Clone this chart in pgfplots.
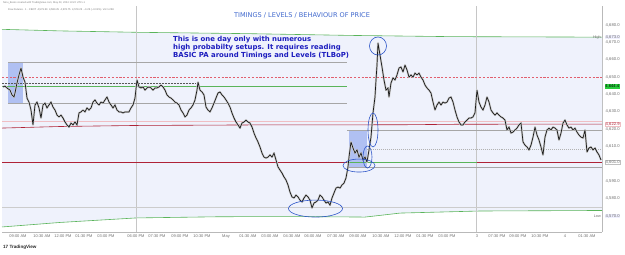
\documentclass[border=0pt]{standalone}
\usepackage{fontspec}
\setmainfont{Liberation Sans}
\newfontfamily\dejavu{DejaVu Sans}
\usepackage{pgfplots}
\pgfplotsset{compat=1.18}
\usepgfplotslibrary{fillbetween}
\definecolor{bandbg}{RGB}{239,242,252}
\definecolor{lvlgreen}{RGB}{90,180,90}
\definecolor{lvlred}{RGB}{175,35,55}
\definecolor{lvlpink}{RGB}{240,190,195}
\definecolor{dashred}{RGB}{225,95,110}
\definecolor{boxblue}{RGB}{150,172,238}
\definecolor{titleblue}{RGB}{65,105,205}
\definecolor{bodyblue}{RGB}{28,28,190}
\definecolor{ellblue}{RGB}{45,85,200}
\definecolor{lblgray}{RGB}{110,110,110}
\definecolor{candle}{RGB}{25,25,25}
\pgfplotstableread{
x p
3 4644.3
5 4644.8
7 4643.7
10 4642.5
12 4639.7
14 4638.5
15 4640.8
17 4646.6
19 4651.2
21 4655.2
23 4650.0
25 4647.1
27 4637.9
29 4635.6
31 4631.0
33 4622.4
35 4633.9
37 4635.6
39 4632.2
41 4626.4
43 4633.9
45 4635.0
47 4632.2
49 4633.9
51 4635.6
53 4632.7
55 4631.0
57 4628.1
59 4627.0
61 4628.1
63 4626.4
65 4624.1
67 4622.4
69 4621.2
71 4623.5
73 4622.4
75 4624.1
77 4622.4
79 4629.3
81 4629.9
83 4631.0
85 4629.9
87 4632.2
89 4631.0
91 4632.2
93 4635.6
95 4636.8
97 4635.0
99 4633.9
101 4635.6
103 4635.0
105 4636.8
107 4638.5
109 4635.6
111 4633.9
113 4632.2
115 4633.9
117 4631.0
119 4629.9
121 4629.9
123 4629.3
125 4629.9
127 4629.9
129 4629.9
131 4632.2
133 4633.9
135 4637.9
137 4648.3
139 4644.3
141 4643.7
143 4644.3
145 4642.5
147 4643.7
149 4644.3
151 4643.7
153 4642.5
155 4643.7
157 4643.7
159 4644.3
161 4645.4
163 4644.3
165 4642.5
167 4639.7
169 4638.5
171 4637.9
173 4636.8
175 4635.6
177 4635.0
179 4633.9
181 4631.0
183 4629.3
185 4627.0
187 4628.1
189 4631.0
191 4632.2
193 4633.9
195 4636.8
197 4642.5
198 4647.1
200 4642.5
202 4641.4
204 4639.7
206 4632.7
208 4631.0
210 4629.9
212 4632.2
214 4635.0
216 4637.9
218 4640.8
220 4641.4
222 4639.7
224 4638.5
226 4636.8
228 4635.0
230 4632.7
232 4629.3
234 4626.4
236 4624.1
238 4622.4
240 4620.6
242 4623.5
244 4624.1
246 4625.2
248 4624.1
250 4623.5
252 4621.2
254 4617.7
256 4614.9
258 4612.6
260 4609.7
262 4606.2
264 4603.9
266 4603.3
268 4603.9
270 4605.1
272 4603.9
274 4606.2
276 4602.2
278 4598.2
280 4596.4
282 4594.7
284 4592.4
286 4590.7
288 4587.8
290 4583.7
292 4580.9
294 4580.3
296 4582.0
298 4580.9
300 4579.1
302 4578.0
304 4580.3
306 4582.0
308 4580.9
310 4579.1
312 4574.5
314 4577.4
316 4578.0
318 4579.1
320 4582.0
322 4580.9
324 4579.1
326 4577.4
328 4578.0
330 4576.2
332 4580.3
334 4583.2
336 4586.0
338 4586.6
340 4586.0
342 4587.8
344 4588.9
346 4591.8
348 4598.2
349 4603.9
351 4612.6
353 4609.1
355 4606.2
357 4608.0
359 4603.9
361 4606.2
363 4602.2
365 4603.9
367 4601.0
369 4608.0
371 4615.4
373 4629.3
375 4638.5
376 4648.3
377 4656.9
378 4669.6
380 4662.7
382 4655.8
384 4648.3
386 4642.5
388 4643.7
389 4638.5
391 4646.6
393 4649.5
395 4648.3
397 4651.2
399 4655.2
401 4655.8
403 4652.9
405 4656.9
407 4654.1
409 4650.0
411 4651.2
413 4650.0
415 4652.3
417 4651.2
419 4652.3
421 4650.0
423 4648.3
425 4645.4
427 4643.7
429 4642.5
431 4640.8
433 4635.6
435 4631.0
437 4633.9
439 4635.6
441 4633.9
443 4635.6
445 4635.0
447 4635.6
449 4637.9
451 4638.5
453 4635.6
455 4631.0
457 4627.0
459 4624.1
461 4622.4
463 4622.4
465 4624.1
467 4625.2
469 4626.4
471 4626.4
473 4627.0
475 4629.3
477 4642.5
479 4635.6
481 4632.7
483 4631.0
485 4633.9
487 4638.5
489 4635.6
491 4631.0
493 4629.3
495 4628.1
497 4629.3
499 4628.1
501 4627.0
503 4626.4
505 4625.2
507 4619.5
509 4621.2
511 4617.7
513 4618.3
515 4619.5
517 4620.6
519 4622.4
521 4623.5
523 4612.6
525 4610.8
527 4609.7
529 4608.0
531 4610.8
533 4615.4
535 4621.2
537 4616.6
539 4613.7
541 4609.7
543 4605.1
545 4615.4
547 4619.5
549 4620.6
551 4619.5
553 4621.2
555 4620.6
557 4619.5
559 4613.7
561 4617.7
563 4623.5
565 4625.2
567 4622.4
569 4620.6
571 4621.2
573 4619.5
575 4620.6
577 4618.3
579 4616.6
581 4615.4
583 4614.9
585 4619.5
587 4606.8
589 4609.1
591 4609.7
593 4608.0
595 4609.1
597 4606.8
599 4605.1
601 4602.2
}\pricetable
\begin{document}
\begin{tikzpicture}
\begin{axis}[
  at={(2bp,23bp)}, anchor=south west,
  width=600bp, height=226bp, scale only axis,
  xmin=2, xmax=602, ymin=4560.7, ymax=4690.95,
  clip=false,
  axis x line*=bottom, axis y line*=right,
  axis line style={draw=gray!55, line width=0.4pt},
  major tick length=0pt,
  xtick={18,42,63,84,106,136,157,180,202,226,248,270,292,313,336,358,381,403,425,447,477,497,518,540,565,587},
  xticklabels={09:00 AM,10:30 AM,12:00 PM,01:30 PM,03:00 PM,06:00 PM,07:30 PM,09:00 PM,10:30 PM,May,01:30 AM,03:00 AM,04:30 AM,06:00 AM,07:30 AM,09:00 AM,10:30 AM,12:00 PM,01:30 PM,03:00 PM,3,07:30 PM,09:00 PM,10:30 PM,4,01:30 AM},
  xticklabel style={font=\fontsize{4}{4.5}\selectfont, text=lblgray, inner sep=0pt, yshift=-2.6bp},
  ytick={4580,4590,4610,4620,4630,4640,4650,4660,4670,4680},
  yticklabel style={font=\fontsize{4.2}{5}\selectfont, text=lblgray, inner sep=0pt, anchor=west, xshift=3.5bp},
  /pgf/number format/.cd, fixed, fixed zerofill, precision=1, 1000 sep={,}, assume math mode=true,
]
% band curves
\addplot[name path=up, lvlgreen, line width=0.6pt] coordinates {(2,4677.5)(60,4676.6)(136,4675.8)(250,4675.0)(350,4674.0)(450,4673.3)(602,4673.0)};
\addplot[name path=lo, lvlgreen, line width=0.6pt] coordinates {(2,4563.6)(60,4566.2)(136,4568.8)(220,4569.5)(300,4569.6)(365,4569.3)(385,4570.6)(400,4571.6)(480,4572.8)(602,4573.1)};
\addplot[bandbg] fill between[of=up and lo];
% session separators
\draw[gray!45, line width=0.4pt] (axis cs:136,4560.7) -- (axis cs:136,4690.95);
\draw[gray!45, line width=0.4pt] (axis cs:476,4560.7) -- (axis cs:476,4690.95);
% blue boxes
\fill[boxblue, opacity=0.7] (axis cs:8,4658.1) rectangle (axis cs:23,4635.0);
\fill[boxblue, opacity=0.7] (axis cs:349,4619.5) rectangle (axis cs:367,4598.2);
% levels
\addplot[gray!70, line width=0.45pt] coordinates {(8,4658.3)(347,4658.3)};
\addplot[dashred, line width=0.35pt, dash pattern=on 2.2pt off 1.6pt] coordinates {(2,4650.0)(602,4650.0)};
\addplot[black!65, dash pattern=on 0.6pt off 0.9pt, line width=0.4pt] coordinates {(2,4646.4)(195,4646.4)};
\addplot[lvlgreen, line width=0.55pt] coordinates {(2,4644.4)(347,4644.4)};
\addplot[gray!70, line width=0.45pt] coordinates {(8,4635.0)(347,4635.0)};
\addplot[lvlpink, line width=0.5pt] coordinates {(2,4624.6)(602,4624.6)};
\addplot[lvlred, line width=0.6pt] coordinates {(2,4620.6)(60,4621.5)(136,4622.1)(250,4622.4)(400,4622.5)(460,4622.8)(602,4622.9)};
\addplot[gray!70, line width=0.45pt] coordinates {(347,4619.5)(602,4619.5)};
\addplot[gray!60, dash pattern=on 1pt off 1pt, line width=0.4pt] coordinates {(367,4608.5)(602,4608.5)};
\addplot[lvlred, line width=0.6pt] coordinates {(2,4600.6)(347,4600.6)};
\addplot[lvlgreen, line width=0.6pt] coordinates {(347,4600.6)(477,4600.6)};
\addplot[lvlred, line width=0.6pt] coordinates {(477,4600.6)(602,4600.6)};
\addplot[gray!70, line width=0.45pt] coordinates {(347,4597.9)(602,4597.9)};
\addplot[gray!40, line width=0.4pt] coordinates {(2,4575.1)(602,4575.1)};
% price path
\addplot[gray!40, line width=2.0pt, line join=round] table[x=x, y=p] {\pricetable};
\addplot[candle, line width=0.7pt, line join=miter, miter limit=3] table[x=x, y=p] {\pricetable};
% ellipses
\draw[ellblue, line width=0.6pt] (axis cs:315.5,4574.2) ellipse [x radius=27bp, y radius=8.5bp];
\draw[ellblue, line width=0.6pt] (axis cs:359,4599.0) ellipse [x radius=16bp, y radius=6.5bp];
\draw[ellblue, line width=0.6pt] (axis cs:367.5,4603.9) ellipse [x radius=4.5bp, y radius=11bp];
\draw[ellblue, line width=0.6pt] (axis cs:373,4619.5) ellipse [x radius=5bp, y radius=17bp];
\draw[ellblue, line width=0.6pt] (axis cs:378,4667.9) ellipse [x radius=8.5bp, y radius=9bp];
% right side labels
\node[font=\fontsize{3.8}{4}\selectfont, text=lblgray, anchor=east, inner sep=0pt] at (axis cs:601,4673.0) {High};
\node[font=\fontsize{3.8}{4}\selectfont, text=lblgray, anchor=east, inner sep=0pt] at (axis cs:601,4570.0) {Low};
\node[font=\fontsize{4.2}{5}\selectfont, text=lblgray, fill=blue!6, anchor=west, inner sep=0.5bp] at (axis cs:605,4673.0) {4,673.0};
\node[font=\fontsize{4.2}{5}\selectfont, text=black, fill={rgb,255:red,40;green,205;blue,60}, anchor=west, inner sep=0.6bp] at (axis cs:604.5,4644.4) {4,644.4};
\node[font=\fontsize{4.2}{5}\selectfont, text=lvlred, fill=white, draw=lvlpink, line width=0.4pt, anchor=west, inner sep=0.5bp] at (axis cs:605,4622.9) {4,622.9};
\node[font=\fontsize{4.2}{5}\selectfont, text=lblgray, fill=white, draw=gray!50, line width=0.4pt, anchor=west, inner sep=0.5bp] at (axis cs:605,4601.0) {4,601.0};
\node[font=\fontsize{4.2}{5}\selectfont, text=lblgray, fill=blue!6, anchor=west, inner sep=0.5bp] at (axis cs:605,4570.0) {4,570.0};
\end{axis}
% texts
\node[font=\fontsize{2.6}{3}\selectfont, text=gray, anchor=west, inner sep=0pt] at (3bp,252bp) {Ninu\_Beats created with TradingView.com, May 03, 2024 13:22 UTC+1};
\node[font=\fontsize{2.6}{3}\selectfont, text=gray!90!black, anchor=west, inner sep=0pt] at (8bp,245.5bp) {Dow Futures · 1 · CBOT \ 4,579.50 \ 4,580.25 \ 4,578.75 \ 4,579.25 \ −0.25 (−0.01\%) \ Vol 1.23K};
\node[font=\dejavu\fontsize{6.6}{7.5}\selectfont, text=titleblue, inner sep=0pt] at (302bp,240bp) {TIMINGS / LEVELS / BEHAVIOUR OF PRICE};
\node[font=\dejavu\bfseries\fontsize{6.95}{8}\selectfont, text=bodyblue, anchor=base west, inner sep=0pt] at (173bp,213.7bp) {This is one day only with numerous};
\node[font=\dejavu\bfseries\fontsize{6.95}{8}\selectfont, text=bodyblue, anchor=base west, inner sep=0pt] at (173bp,205.3bp) {high probabilty setups. It requires reading};
\node[font=\dejavu\bfseries\fontsize{6.95}{8}\selectfont, text=bodyblue, anchor=base west, inner sep=0pt] at (173bp,197bp) {BASIC PA around Timings and Levels (TLBoP)};
\node[font=\bfseries\fontsize{4.6}{5}\selectfont, text=black!85, anchor=west, inner sep=0pt] at (3bp,8bp) {17 TradingView};
\pgfresetboundingbox
\path[use as bounding box] (0,0) rectangle (625bp,255bp);
\end{tikzpicture}
\end{document}
